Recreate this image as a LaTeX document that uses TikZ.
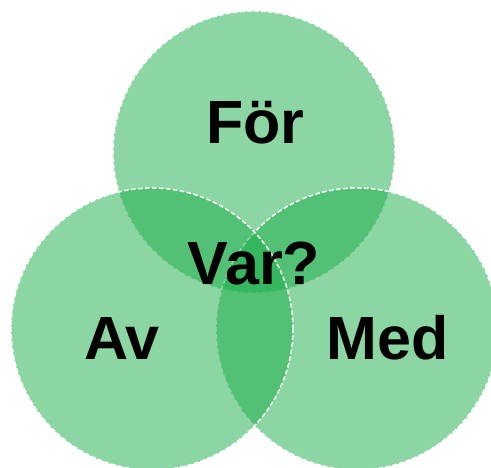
\documentclass[tikz,border=0pt]{standalone}
\usepackage{fontspec}
\setmainfont{Liberation Sans}
\definecolor{venngreen}{RGB}{25,173,73}
\tikzset{
	every node/.style={anchor=base,align=center,outer sep=1.5pt},
	venn/.style={fill=venngreen,fill opacity=0.5,draw=white,draw opacity=1,
		dash pattern=on 3.5pt off 1.75pt,line width=1.1pt},
	word/.style={font=\fontsize{45.75}{50}\selectfont\bfseries,text=black},
}
\begin{document}
\begin{tikzpicture}[x=0.75pt,y=0.75pt]
		
		%frame.....................
		\useasboundingbox (0,0) rectangle (491,467);
		\clip (0,0) rectangle (491,467);
		
		% top circle...................
		\draw [venn] (254,315) circle [radius=141];
		
		% right circle....................
		\draw [venn] (357,138) circle [radius=141];
		
		% left circle...................
		\draw [venn] (152,138) circle [radius=141];
		
		% labels..............................
		\node [word] (for) at (255.5,323) {För};
		\node [word] (var) at (254,182) {Var?};
		\node [word] (av) at (122,108) {Av};
		\node [word] (med) at (387.5,108) {Med};
		
	\end{tikzpicture}
\end{document}
